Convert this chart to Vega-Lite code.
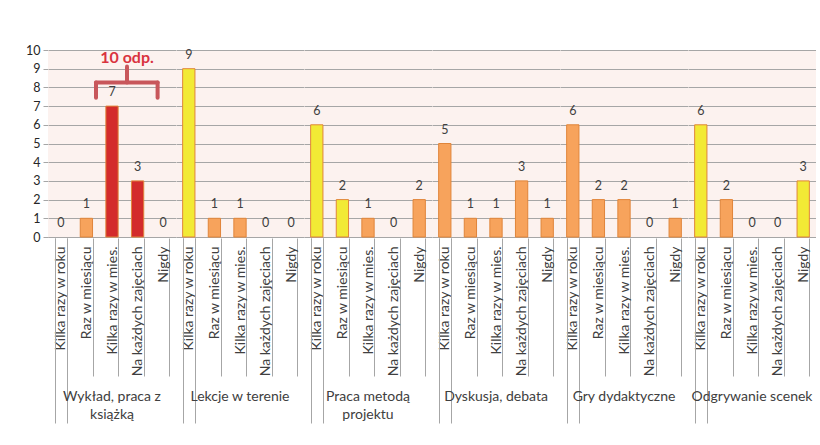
{
  "$schema": "https://vega.github.io/schema/vega-lite/v6.json",
  "padding": {"left": 25, "top": 44, "right": 0, "bottom": 0},
  "background": "white",
  "data": {"values": [
    {"grupa": "Wykład, praca z książką", "kategoria": "Kilka razy w roku", "liczba": 0, "seria": "podstawowa"},
    {"grupa": "Wykład, praca z książką", "kategoria": "Raz w miesiącu", "liczba": 1, "seria": "podstawowa"},
    {"grupa": "Wykład, praca z książką", "kategoria": "Kilka razy w mies.", "liczba": 7, "seria": "zaznaczona", "adnotacja": "10 odp.", "koniec": "Na każdych zajęciach"},
    {"grupa": "Wykład, praca z książką", "kategoria": "Na każdych zajęciach", "liczba": 3, "seria": "zaznaczona"},
    {"grupa": "Wykład, praca z książką", "kategoria": "Nigdy", "liczba": 0, "seria": "podstawowa"},
    {"grupa": "Lekcje w terenie", "kategoria": "Kilka razy w roku", "liczba": 9, "seria": "wyróżniona"},
    {"grupa": "Lekcje w terenie", "kategoria": "Raz w miesiącu", "liczba": 1, "seria": "podstawowa"},
    {"grupa": "Lekcje w terenie", "kategoria": "Kilka razy w mies.", "liczba": 1, "seria": "podstawowa"},
    {"grupa": "Lekcje w terenie", "kategoria": "Na każdych zajęciach", "liczba": 0, "seria": "podstawowa"},
    {"grupa": "Lekcje w terenie", "kategoria": "Nigdy", "liczba": 0, "seria": "podstawowa"},
    {"grupa": "Praca metodą projektu", "kategoria": "Kilka razy w roku", "liczba": 6, "seria": "wyróżniona"},
    {"grupa": "Praca metodą projektu", "kategoria": "Raz w miesiącu", "liczba": 2, "seria": "wyróżniona"},
    {"grupa": "Praca metodą projektu", "kategoria": "Kilka razy w mies.", "liczba": 1, "seria": "podstawowa"},
    {"grupa": "Praca metodą projektu", "kategoria": "Na każdych zajęciach", "liczba": 0, "seria": "podstawowa"},
    {"grupa": "Praca metodą projektu", "kategoria": "Nigdy", "liczba": 2, "seria": "podstawowa"},
    {"grupa": "Dyskusja, debata", "kategoria": "Kilka razy w roku", "liczba": 5, "seria": "podstawowa"},
    {"grupa": "Dyskusja, debata", "kategoria": "Raz w miesiącu", "liczba": 1, "seria": "podstawowa"},
    {"grupa": "Dyskusja, debata", "kategoria": "Kilka razy w mies.", "liczba": 1, "seria": "podstawowa"},
    {"grupa": "Dyskusja, debata", "kategoria": "Na każdych zajęciach", "liczba": 3, "seria": "podstawowa"},
    {"grupa": "Dyskusja, debata", "kategoria": "Nigdy", "liczba": 1, "seria": "podstawowa"},
    {"grupa": "Gry dydaktyczne", "kategoria": "Kilka razy w roku", "liczba": 6, "seria": "podstawowa"},
    {"grupa": "Gry dydaktyczne", "kategoria": "Raz w miesiącu", "liczba": 2, "seria": "podstawowa"},
    {"grupa": "Gry dydaktyczne", "kategoria": "Kilka razy w mies.", "liczba": 2, "seria": "podstawowa"},
    {"grupa": "Gry dydaktyczne", "kategoria": "Na każdych zajęciach", "liczba": 0, "seria": "podstawowa"},
    {"grupa": "Gry dydaktyczne", "kategoria": "Nigdy", "liczba": 1, "seria": "podstawowa"},
    {"grupa": "Odgrywanie scenek", "kategoria": "Kilka razy w roku", "liczba": 6, "seria": "wyróżniona"},
    {"grupa": "Odgrywanie scenek", "kategoria": "Raz w miesiącu", "liczba": 2, "seria": "podstawowa"},
    {"grupa": "Odgrywanie scenek", "kategoria": "Kilka razy w mies.", "liczba": 0, "seria": "podstawowa"},
    {"grupa": "Odgrywanie scenek", "kategoria": "Na każdych zajęciach", "liczba": 0, "seria": "podstawowa"},
    {"grupa": "Odgrywanie scenek", "kategoria": "Nigdy", "liczba": 3, "seria": "wyróżniona"}
  ]},
  "facet": {
    "column": {
      "field": "grupa", "type": "nominal",
      "sort": ["Wykład, praca z książką", "Lekcje w terenie", "Praca metodą projektu", "Dyskusja, debata", "Gry dydaktyczne", "Odgrywanie scenek"],
      "header": {
        "title": null, "labelOrient": "bottom", "labelFont": "Lato", "labelFontSize": 14,
        "labelColor": "#404040", "labelPadding": -34, "labelLineHeight": 18, "labelBaseline": "top",
        "labelExpr": "datum.value == 'Wykład, praca z książką' ? ['Wykład, praca z', 'książką'] : datum.value == 'Praca metodą projektu' ? ['Praca metodą', 'projektu'] : datum.value"
      }
    }
  },
  "spacing": 0,
  "spec": {
    "width": 128,
    "height": 187,
    "resolve": {"axis": {"x": "independent"}},
    "encoding": {
      "y": {
        "field": "liczba", "type": "quantitative",
        "scale": {"domain": [0, 10], "nice": false},
        "axis": {
          "title": null, "values": [0,1,2,3,4,5,6,7,8,9,10], "grid": true, "gridColor": "#A6A6A6",
          "domainColor": "#A6A6A6", "tickColor": "#A6A6A6", "tickSize": 5,
          "labelFontSize": 12.5, "labelColor": "#262626", "labelFont": "Lato", "labelPadding": 3
        }
      }
    },
    "layer": [
      {
        "transform": [{"filter": "datum.liczba > 0"}],
        "mark": {"type": "bar", "stroke": "#E0853A", "strokeWidth": 1},
        "encoding": {
          "x": {
            "field": "kategoria", "type": "nominal",
            "scale": {"domain": ["Kilka razy w roku", "Raz w miesiącu", "Kilka razy w mies.", "Na każdych zajęciach", "Nigdy"], "paddingInner": 0.52, "paddingOuter": 0.26},
            "axis": {
              "title": null, "orient": "bottom", "labelAngle": -90, "labelAlign": "right", "labelBaseline": "middle",
              "tickBand": "extent", "tickSize": 138,
              "tickColor": "#A6A6A6", "domain": false, "labelPadding": -130,
              "labelFontSize": 14, "labelColor": "#404040", "labelFont": "Lato", "grid": false, "labelOverlap": false
            }
          },
          "color": {"field": "seria", "type": "nominal",
            "scale": {"domain": ["podstawowa", "zaznaczona", "wyróżniona"], "range": ["#F7A35C", "#D32B2B", "#F2EA35"]},
            "legend": null}
        }
      },
      {
        "mark": {"type": "text", "dy": -14, "baseline": "middle", "fontSize": 12.5, "font": "Lato", "color": "#404040"},
        "encoding": {
          "x": {
            "field": "kategoria", "type": "nominal",
            "axis": {
              "title": null, "orient": "bottom", "values": ["Kilka razy w roku"], "labels": false,
              "tickBand": "extent", "tickSize": 185, "tickColor": "#A6A6A6", "domain": false, "grid": false
            }
          },
          "text": {"field": "liczba", "type": "quantitative"}
        }
      },
      {
        "transform": [{"filter": "datum.adnotacja"}],
        "mark": {"type": "rule", "stroke": "#C8575B", "strokeWidth": 4, "strokeCap": "round", "xOffset": -16, "x2Offset": 20},
        "encoding": {
          "x": {"field": "kategoria", "type": "nominal", "axis": null},
          "x2": {"field": "koniec"},
          "y": {"datum": 8.26}
        }
      },
      {
        "transform": [{"filter": "datum.adnotacja"}],
        "mark": {"type": "rule", "stroke": "#C8575B", "strokeWidth": 4, "strokeCap": "round", "xOffset": -16},
        "encoding": {
          "x": {"field": "kategoria", "type": "nominal", "axis": null},
          "y": {"datum": 8.26}, "y2": {"datum": 7.45}
        }
      },
      {
        "transform": [{"filter": "datum.adnotacja"}],
        "mark": {"type": "rule", "stroke": "#C8575B", "strokeWidth": 4, "strokeCap": "round", "xOffset": 20},
        "encoding": {
          "x": {"field": "koniec", "type": "nominal", "axis": null},
          "y": {"datum": 8.26}, "y2": {"datum": 7.45}
        }
      },
      {
        "transform": [{"filter": "datum.adnotacja"}],
        "mark": {"type": "rule", "stroke": "#C8575B", "strokeWidth": 4, "strokeCap": "round", "xOffset": 15},
        "encoding": {
          "x": {"field": "kategoria", "type": "nominal", "axis": null},
          "y": {"datum": 8.26}, "y2": {"datum": 9.12}
        }
      },
      {
        "transform": [{"filter": "datum.adnotacja"}],
        "mark": {"type": "text", "xOffset": 15, "baseline": "middle", "fontSize": 16, "fontWeight": "bold", "font": "Lato", "color": "#D9333F"},
        "encoding": {
          "x": {"field": "kategoria", "type": "nominal", "axis": null},
          "y": {"datum": 9.59},
          "text": {"field": "adnotacja"}
        }
      }
    ]
  },
  "config": {"view": {"stroke": null, "fill": "#FCF2EF"}, "font": "Lato"}
}
